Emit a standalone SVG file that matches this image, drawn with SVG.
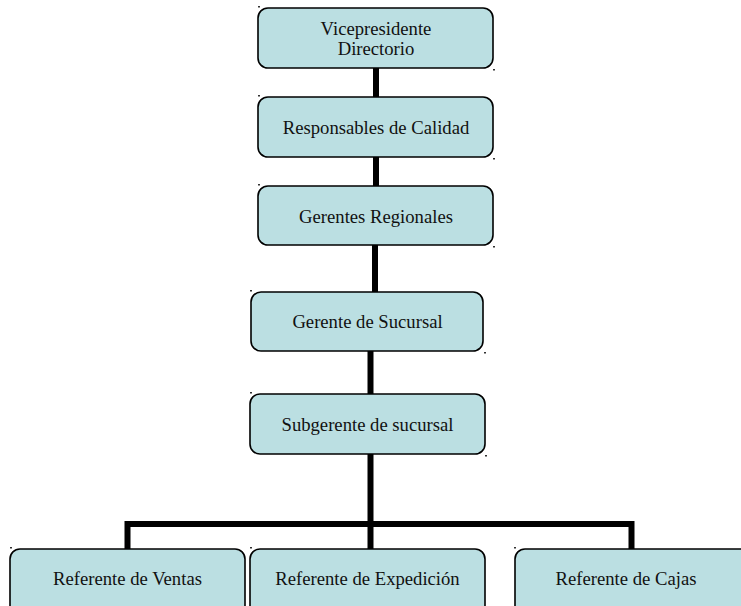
<svg xmlns="http://www.w3.org/2000/svg" width="741" height="606" viewBox="0 0 741 606">
<style>
.box{fill:#BBDFE2;stroke:#000;stroke-width:1.6}
.t{font-family:"Liberation Serif","Times New Roman",serif;font-size:18.67px;fill:#111;text-anchor:middle}
.c{stroke:#000;stroke-width:6;fill:none}
.d{fill:#333}
</style>
<rect width="741" height="606" fill="#fff"/>
<g id="connectors">
<line class="c" x1="376" y1="68" x2="376" y2="97"/>
<line class="c" x1="376" y1="157" x2="376" y2="186"/>
<line class="c" x1="375" y1="245" x2="375" y2="292"/>
<line class="c" x1="370.5" y1="351" x2="370.5" y2="394"/>
<line class="c" x1="370.5" y1="454" x2="370.5" y2="549"/>
<polyline class="c" stroke-width="5" points="127.5,549 127.5,524 631.5,524 631.5,549"/>
</g>
<g id="n1">
<rect class="box" x="258" y="8" width="235" height="60" rx="10"/>
<text class="t" x="376" y="35">Vicepresidente</text>
<text class="t" x="376" y="55">Directorio</text>
<rect class="d" x="258" y="6" width="2" height="1.5"/><rect class="d" x="493" y="69" width="2" height="1.5"/>
</g>
<g id="n2">
<rect class="box" x="258" y="97" width="235" height="60" rx="10"/>
<text class="t" x="376" y="133.5">Responsables de Calidad</text>
<rect class="d" x="258" y="95" width="2" height="1.5"/><rect class="d" x="493" y="158" width="2" height="1.5"/>
</g>
<g id="n3">
<rect class="box" x="258" y="186" width="235" height="59" rx="10"/>
<text class="t" x="376" y="222.5">Gerentes Regionales</text>
<rect class="d" x="258" y="184" width="2" height="1.5"/><rect class="d" x="493" y="246" width="2" height="1.5"/>
</g>
<g id="n4">
<rect class="box" x="251" y="292" width="232" height="59" rx="10"/>
<text class="t" x="367.5" y="328">Gerente de Sucursal</text>
<rect class="d" x="250" y="290" width="2" height="1.5"/><rect class="d" x="484" y="352" width="2" height="1.5"/>
</g>
<g id="n5">
<rect class="box" x="250" y="394" width="235" height="60" rx="10"/>
<text class="t" x="367.5" y="431">Subgerente de sucursal</text>
<rect class="d" x="250" y="392" width="2" height="1.5"/><rect class="d" x="485" y="455" width="2" height="1.5"/>
</g>
<g id="n6">
<rect class="box" x="10" y="549" width="235" height="70" rx="10"/>
<text class="t" x="127.5" y="585">Referente de Ventas</text>
<rect class="d" x="10" y="547" width="2" height="1.5"/>
</g>
<g id="n7">
<rect class="box" x="250" y="549" width="235" height="70" rx="10"/>
<text class="t" x="367.5" y="585">Referente de Expedición</text>
<rect class="d" x="250" y="547" width="2" height="1.5"/>
</g>
<g id="n8">
<rect class="box" x="515" y="549" width="235" height="70" rx="10"/>
<text class="t" x="626" y="585">Referente de Cajas</text>
<rect class="d" x="514" y="547" width="2" height="1.5"/>
</g>
</svg>
